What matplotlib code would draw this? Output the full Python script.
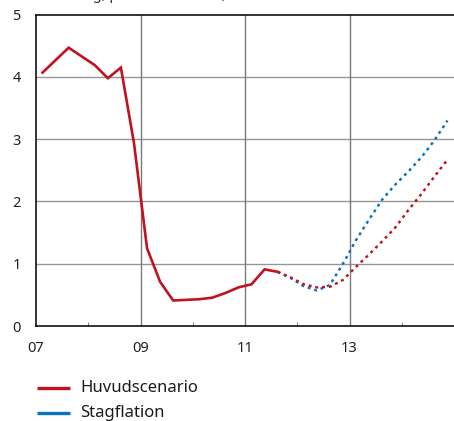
import matplotlib
matplotlib.use("Agg")
import matplotlib.pyplot as plt
from matplotlib.ticker import FixedLocator

plt.rcParams['font.family'] = ['Noto Sans', 'DejaVu Sans']

# Quarterly observations (quarter midpoints), outcome 2007 Q1 - 2011 Q3
hist_x = [2007.125 + 0.25 * i for i in range(19)]
hist_main = [4.07, 4.27, 4.47, 4.33, 4.19, 3.98, 4.15, 2.94, 1.25, 0.71,
             0.41, 0.42, 0.43, 0.455, 0.53, 0.62, 0.67, 0.91, 0.87]

# Forecasts 2011 Q3 - 2014 Q4
fc_x = [2011.625 + 0.25 * i for i in range(14)]
fc_main = [0.87, 0.78, 0.67, 0.62, 0.63, 0.74, 0.95, 1.15, 1.36, 1.58,
           1.86, 2.12, 2.40, 2.67]
fc_stag = [0.87, 0.77, 0.64, 0.57, 0.66, 1.00, 1.38, 1.71, 2.03, 2.27,
           2.48, 2.71, 2.98, 3.30]

series_names = ["Huvudscenario", "Stagflation"]
year_ticks = [2007, 2009, 2011, 2013]
year_labels = ["07", "09", "11", "13"]
minor_years = [2008, 2010, 2012, 2014]
y_ticks = [0, 1, 2, 3, 4, 5]

RED = "#c1121f"
BLUE = "#0a72c0"

W, H = 454, 421
fig = plt.figure(figsize=(W / 100, H / 100), dpi=100)
ax = fig.add_axes([36 / W, 1 - 326 / H, 418 / W, (326 - 14.7) / H])

ax.set_xlim(2007, 2015)
ax.set_ylim(0, 5)

# grid
for yv in y_ticks[1:-1]:
    ax.axhline(yv, color="#969696", lw=1.0, zorder=1)
for xv in year_ticks[1:]:
    ax.axvline(xv, color="#7a7a7a", lw=1.0, zorder=1)

dot = (0, (1.2, 1.6))
lw = 1.75
ax.plot(fc_x, fc_stag, color=BLUE, lw=lw, linestyle=dot, zorder=3)
ax.plot(fc_x, fc_main, color=RED, lw=lw, linestyle=dot, zorder=4)
ax.plot(hist_x, hist_main, color=RED, lw=1.9, zorder=5,
        solid_joinstyle="miter")

ax.xaxis.set_major_locator(FixedLocator(year_ticks))
ax.set_xticklabels(year_labels)
ax.xaxis.set_minor_locator(FixedLocator(minor_years))
ax.tick_params(axis="x", which="major", length=0, pad=11, labelsize=10.5,
               colors="#222222")
ax.tick_params(axis="x", which="minor", direction="in", length=3, width=0.8,
               color="#888888")
ax.set_yticks(y_ticks)
ax.tick_params(axis="y", length=0, pad=14, labelsize=10.5, colors="#222222")
for lab in ax.get_yticklabels():
    lab.set_horizontalalignment("center")

for side in ["left", "top", "bottom"]:
    ax.spines[side].set_color("#111111")
    ax.spines[side].set_linewidth(1.2)
ax.spines["right"].set_visible(False)

# legend
ax_leg = fig.add_axes([0, 0, 1, 1], facecolor="none")
ax_leg.set_xlim(0, W)
ax_leg.set_ylim(H, 0)
ax_leg.axis("off")
for i, (name, col) in enumerate(zip(series_names, [RED, BLUE])):
    yy = 388 + 24.5 * i
    ax_leg.plot([37, 70], [yy, yy], color=col, lw=2.4, solid_capstyle="butt")
    ax_leg.text(80, yy + 0.5, name, fontsize=12, va="center", ha="left",
                color="#1a1a1a")

# unit line above the plot area, running off the top edge
fig.text(43 / W, 1 + 1.5 / H, "Utlåning, procent i årstakt, kvartalsmedelvärden",
         fontsize=10.5, va="baseline", ha="left", color="#333333")

fig.savefig("out.png", dpi=100)
